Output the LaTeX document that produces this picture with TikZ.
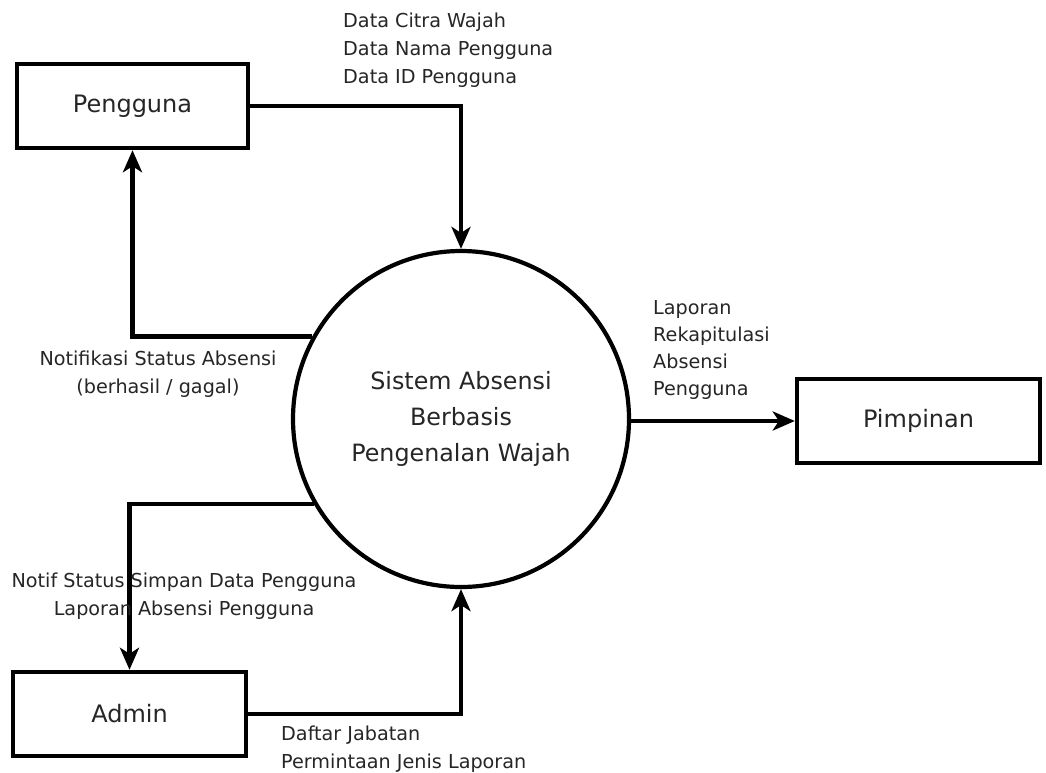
\documentclass[tikz,border=0pt]{standalone}
\usepackage{fontspec}
\setmainfont{DejaVu Sans}
\usetikzlibrary{arrows.meta}

\tikzset{
  entity/.style={draw, line width=4.4pt, rectangle, inner sep=0pt,
    font=\fontsize{24}{28}\selectfont, text=black!85},
  process/.style={draw, line width=4.2pt, circle, inner sep=0pt,
    minimum size=336pt, align=center,
    font=\fontsize{23.8}{36}\selectfont, text=black!85},
  flow/.style={line width=4.4pt, -{Stealth[length=22pt,width=19pt,inset=6pt]}},
  flowlabel/.style={inner sep=0pt, font=\fontsize{19.2}{28}\selectfont, text=black!85}
}

\begin{document}
\begin{tikzpicture}[x=1pt,y=-1pt]
  \fill[white] (0,0) rectangle (1046,772);
  \useasboundingbox (0,0) rectangle (1046,772);

  % external entities and the process
  \node[entity, minimum width=231pt, minimum height=84pt] (peng) at (132.5,106) {Pengguna};
  \node[entity, minimum width=243pt, minimum height=84pt] (pim) at (918.5,421) {Pimpinan};
  \node[entity, minimum width=233pt, minimum height=84pt] (adm) at (129.5,714) {Admin};
  \node[process] (proc) at (461,419) {Sistem Absensi\\Berbasis\\Pengenalan Wajah};

  % data flows
  \draw[flow] (peng.east) -| (proc.north);
  \draw[flow] (proc.151.2) -| (peng.south);
  \draw[flow] (proc.210.8) -| (adm.north);
  \draw[flow] (adm.east) -| (proc.south);
  \draw[flow] (proc.east |- pim.west) -- (pim.west);

  % flow labels
  \node[flowlabel, align=left, anchor=west] (lin) at (343,50)
    {Data Citra Wajah\\Data Nama Pengguna\\Data ID Pengguna};
  \node[flowlabel, align=center] (lnotif) at (158,374)
    {Notifikasi Status Absensi\\(berhasil / gagal)};
  \node[flowlabel, align=center] (ladm) at (184,596)
    {Notif Status Simpan Data Pengguna\\Laporan Absensi Pengguna};
  \node[flowlabel, align=left, anchor=west] (lreq) at (281,749)
    {Daftar Jabatan\\Permintaan Jenis Laporan};
  \node[flowlabel, align=left, anchor=west,
        font=\fontsize{19.2}{27}\selectfont] (lrek) at (653,350)
    {Laporan\\Rekapitulasi\\Absensi\\Pengguna};
\end{tikzpicture}
\end{document}
